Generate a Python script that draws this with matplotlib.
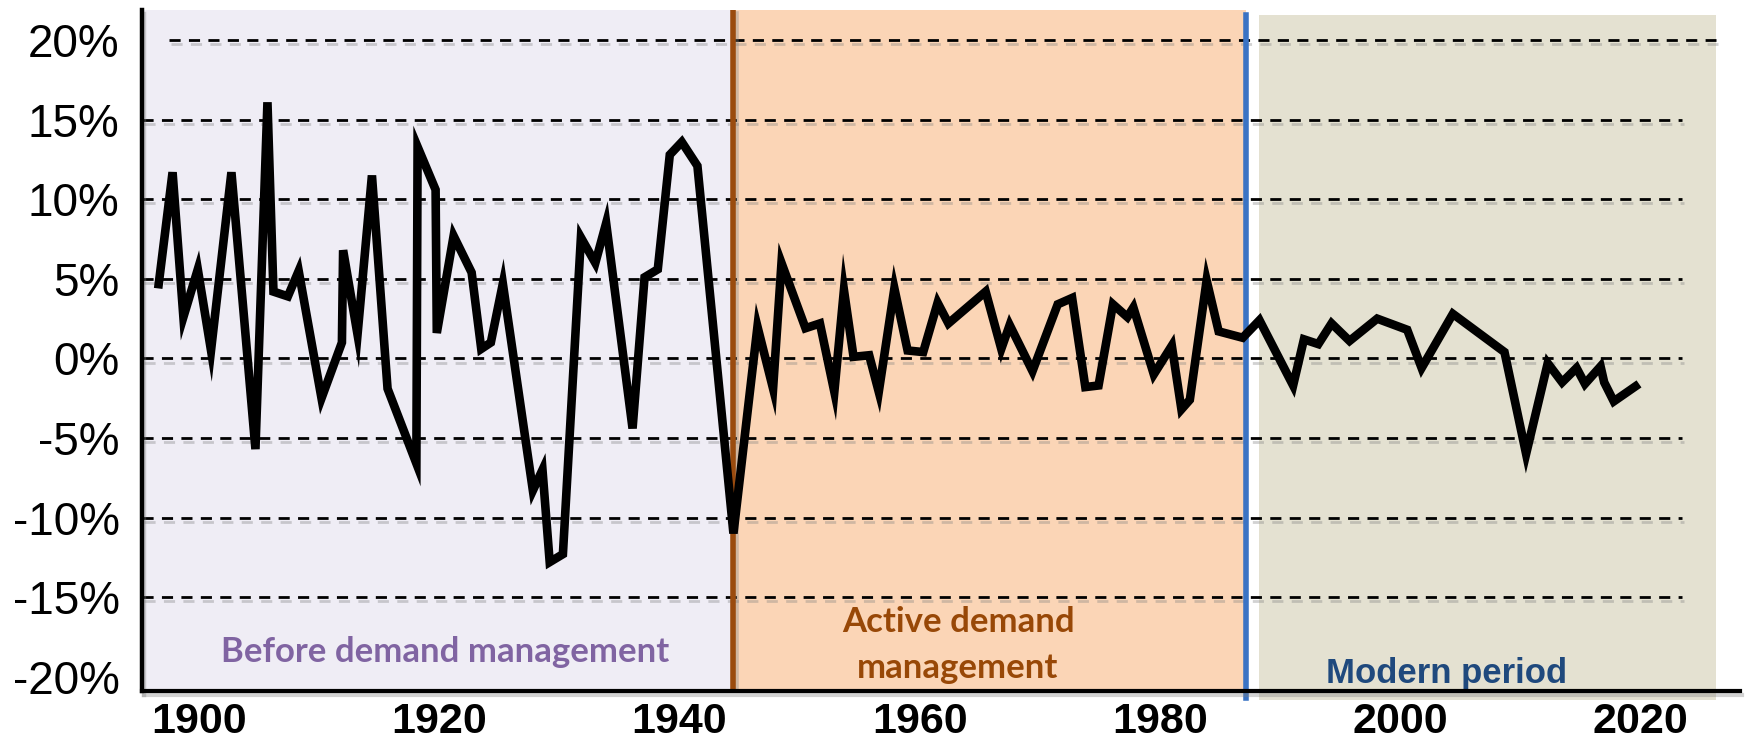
import matplotlib
matplotlib.use("Agg")
import matplotlib.pyplot as plt
import matplotlib.patheffects as pe

# ── data (year, growth %) ────────────────────────────────────────────────────
years = [1896.6, 1897.8, 1898.7, 1899.9, 1901.0, 1902.7, 1904.7, 1905.7, 1906.2,
         1907.4, 1908.3, 1910.2, 1911.9, 1912.0, 1913.2, 1914.4, 1915.7, 1918.1,
         1918.2, 1919.7, 1919.8, 1921.2, 1922.7, 1923.5, 1924.3, 1925.3, 1927.8,
         1928.6, 1929.2, 1930.3, 1931.8, 1933.0, 1933.9, 1936.1, 1937.1, 1938.2,
         1939.2, 1940.2, 1941.5, 1944.5, 1946.5, 1947.8, 1948.5, 1950.5, 1951.7,
         1952.9, 1953.7, 1954.5, 1955.8, 1956.6, 1957.9, 1959.0, 1960.3, 1961.5,
         1962.4, 1965.5, 1966.8, 1967.5, 1969.4, 1971.5, 1972.7, 1973.8, 1974.9,
         1976.1, 1977.3, 1977.8, 1979.5, 1981.0, 1981.8, 1982.5, 1983.9, 1984.9,
         1986.9, 1988.3, 1991.1, 1992.0, 1993.2, 1994.3, 1995.8, 1998.1, 2000.6,
         2001.8, 2004.4, 2008.7, 2010.5, 2012.3, 2013.5, 2014.7, 2015.4, 2016.7,
         2017.0, 2017.8, 2019.9]
growth = [4.4, 11.7, 2.6, 5.6, 0.5, 11.7, -5.7, 16.1, 4.2,
          3.9, 5.5, -2.5, 1.0, 6.8, 1.5, 11.5, -1.9, -6.6,
          13.3, 10.6, 1.6, 7.7, 5.4, 0.6, 1.0, 4.7, -8.3,
          -7.0, -12.8, -12.3, 7.6, 6.0, 8.5, -4.4, 5.1, 5.6,
          12.8, 13.6, 12.1, -11.0, 2.0, -1.9, 6.0, 1.9, 2.2,
          -2.1, 4.3, 0.1, 0.2, -2.1, 4.4, 0.5, 0.4, 3.5,
          2.2, 4.2, 0.6, 2.1, -0.8, 3.4, 3.8, -1.8, -1.7,
          3.4, 2.6, 3.2, -1.0, 0.8, -3.2, -2.6, 4.9, 1.7,
          1.3, 2.4, -1.7, 1.2, 0.9, 2.2, 1.1, 2.5, 1.8,
          -0.6, 2.8, 0.4, -6.0, -0.3, -1.5, -0.6, -1.6, -0.5,
          -1.5, -2.7, -1.6]

y_ticks = [20, 15, 10, 5, 0, -5, -10, -15, -20]
y_labels = [f"{v}%" for v in y_ticks]
x_ticks = [1900, 1920, 1940, 1960, 1980, 2000, 2020]
x_labels = [str(v) for v in x_ticks]

period_breaks = [1944.5, 1987.2]      # brown and blue dividers
modern_span = [1988.3, 2026.3]        # beige block
period_names = ["Before demand management", "Active demand", "management",
                "Modern period"]

# ── styling ──────────────────────────────────────────────────────────────────
C_BEFORE = "#EFEDF5"
C_ACTIVE = "#FBD5B6"
C_MODERN = "#E4E1D1"
C_BROWN = "#9A4B0E"
C_BLUE = "#3A73C4"
TXT_BEFORE = "#8064A2"
TXT_ACTIVE = "#984807"
TXT_MODERN = "#1F497D"

XLIM = (1895.25, 2028.3)
YLIM = (-20.9, 21.9)

shadow = [pe.SimpleLineShadow(offset=(1.5, -3), shadow_color="#7f7f7f", alpha=0.35),
          pe.Normal()]

fig = plt.figure(figsize=(17.46, 7.43), dpi=100)
ax = fig.add_axes([0.0813, 0.070, 0.9152, 0.9166])
ax.set_xlim(*XLIM)
ax.set_ylim(*YLIM)

# period backgrounds
ax.axvspan(XLIM[0], period_breaks[0], color=C_BEFORE, lw=0, zorder=0)
ax.axvspan(period_breaks[0], period_breaks[1], color=C_ACTIVE, lw=0, zorder=0)
ax.axvspan(modern_span[0], modern_span[1], ymin=-0.013, ymax=0.993,
           color=C_MODERN, lw=0, zorder=0, clip_on=False)

# dashed gridlines
for v in y_ticks[:-1]:
    if v == 20:
        x0, x1 = 1897.5, 2026.3
    else:
        x0, x1 = XLIM[0], 2023.5
    ax.hlines(v, x0, x1, colors="black", linewidth=2, linestyles=(0, (4, 3)),
              zorder=1, path_effects=shadow)

# period dividers
ax.axvline(period_breaks[0], ymin=0, ymax=1.0, color=C_BROWN, linewidth=4,
           zorder=2, path_effects=shadow)
ax.axvline(period_breaks[1], ymin=-0.01, ymax=0.993, color=C_BLUE, linewidth=4,
           zorder=2, clip_on=False)

# growth line
ax.plot(years, growth, color="black", linewidth=6.2, solid_joinstyle="miter",
        solid_capstyle="butt", zorder=3)

# period labels
lab_font = dict(family=["Lato", "DejaVu Sans"], fontweight="bold", fontsize=25)
ax.text(1920.5, -19.1, period_names[0], color=TXT_BEFORE, ha="center",
        va="baseline", zorder=4, **lab_font)
ax.text(1963.2, -17.2, period_names[1], color=TXT_ACTIVE, ha="center",
        va="baseline", zorder=4, **lab_font)
ax.text(1963.2, -20.1, period_names[2], color=TXT_ACTIVE, ha="center",
        va="baseline", zorder=4, **lab_font)
ax.text(2003.9, -20.4, period_names[3], color=TXT_MODERN, ha="center",
        va="baseline", zorder=4, family=["Liberation Sans", "DejaVu Sans"],
        fontweight="bold", fontsize=25)

# axes
for side in ["top", "right"]:
    ax.spines[side].set_visible(False)
ax.spines["left"].set_linewidth(3.2)
ax.spines["bottom"].set_linewidth(3.0)
for side in ["left", "bottom"]:
    ax.spines[side].set_zorder(5)
    ax.spines[side].set_path_effects(shadow)

ax.set_yticks(y_ticks, labels=y_labels)
ax.set_xticks(x_ticks, labels=x_labels)
ax.tick_params(axis="y", length=0, pad=16, labelsize=33)
ax.tick_params(axis="x", length=0, pad=8, labelsize=31)
for t in ax.get_yticklabels():
    t.set_fontfamily(["Liberation Sans", "DejaVu Sans"])
for t in ax.get_xticklabels():
    t.set_fontfamily(["Liberation Sans", "DejaVu Sans"])
    t.set_fontweight("bold")

fig.savefig("out.png", dpi=100, facecolor="white")
